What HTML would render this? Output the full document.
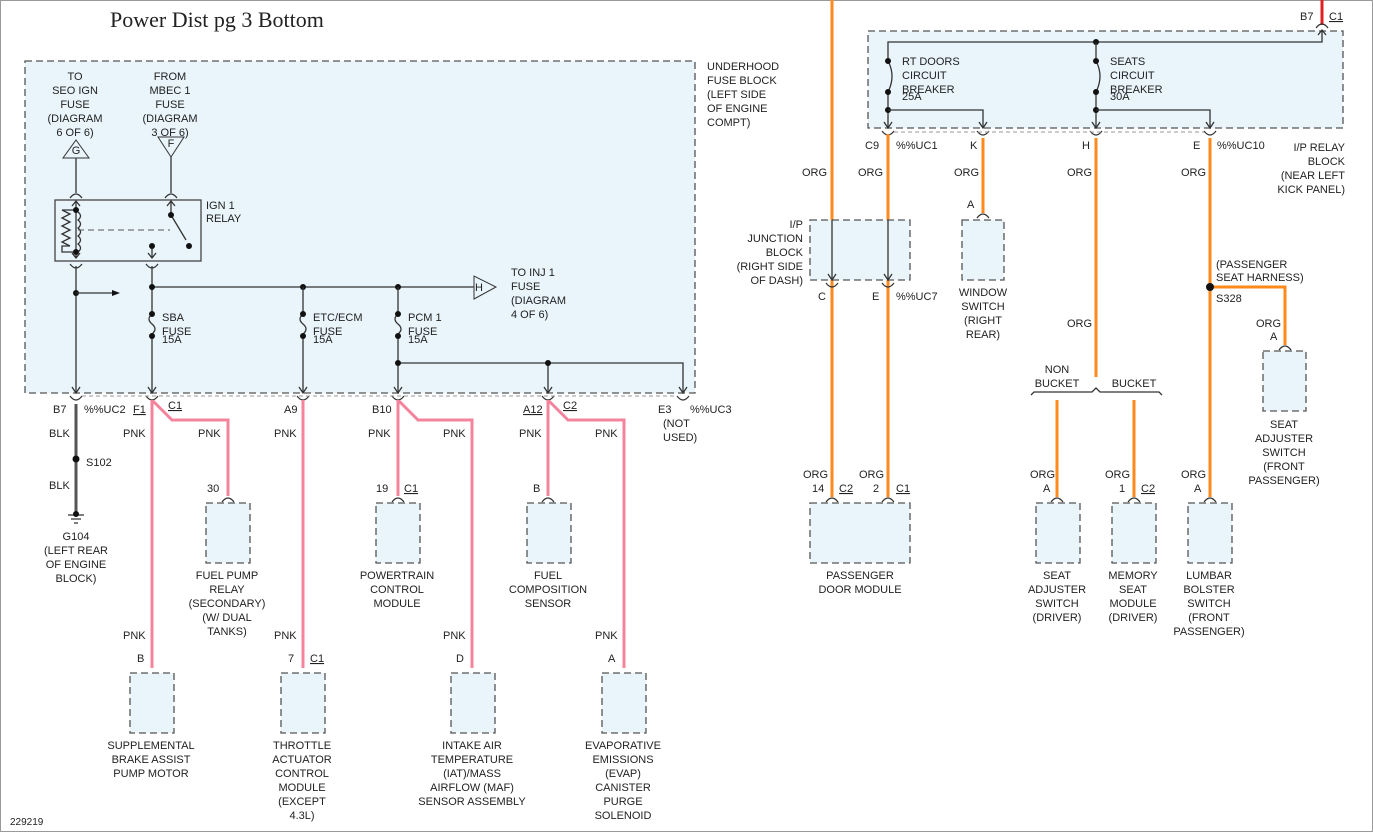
<!DOCTYPE html>
<html><head><meta charset="utf-8"><style>
html,body{margin:0;padding:0;background:#fff;}
svg{display:block;}
text{font-family:"Liberation Sans",sans-serif;font-size:11px;fill:#222;}
.t{font-family:"Liberation Serif",serif;font-size:22px;}
.bx{fill:#e9f5fb;stroke:#555;stroke-width:1.3;stroke-dasharray:7,4;}
.k{stroke:#333;stroke-width:1.3;fill:none;}
.p{stroke:#f4849c;stroke-width:3;fill:none;}
.o{stroke:#ff8a1c;stroke-width:3;fill:none;}
.c{stroke:#333;stroke-width:1.2;fill:none;}
</style></head><body>
<svg width="1373" height="832" viewBox="0 0 1373 832" xmlns="http://www.w3.org/2000/svg">
<rect x="0" y="0" width="1373" height="832" fill="#fff"/>
<rect x="0.5" y="0.5" width="1372" height="831" fill="none" stroke="#999"/>
<text class="t" x="110" y="27">Power Dist pg 3 Bottom</text>

<!-- Left underhood block -->
<rect class="bx" x="25" y="61" width="670" height="332"/>
<g text-anchor="end"><text x="707" y="70" text-anchor="start">UNDERHOOD</text></g>
<text x="707" y="84">FUSE BLOCK</text><text x="707" y="98">(LEFT SIDE</text><text x="707" y="112">OF ENGINE</text><text x="707" y="126">COMPT)</text>

<g text-anchor="middle">
<text x="75" y="80">TO</text><text x="75" y="94">SEO IGN</text><text x="75" y="108">FUSE</text><text x="75" y="122">(DIAGRAM</text><text x="75" y="136">6 OF 6)</text>
<text x="170" y="80">FROM</text><text x="170" y="94">MBEC 1</text><text x="170" y="108">FUSE</text><text x="170" y="122">(DIAGRAM</text><text x="170" y="136">3 OF 6)</text>
</g>
<polygon points="76,140 89,158 63,158" fill="#e9f5fb" stroke="#333"/>
<text x="76" y="154" text-anchor="middle">G</text>
<polygon points="158,137 184,137 171,157" fill="#e9f5fb" stroke="#333"/>
<text x="171" y="147" text-anchor="middle">F</text>
<line class="k" x1="76" y1="158" x2="76" y2="193"/>
<line class="k" x1="171" y1="157" x2="171" y2="193"/>
<path class="c" d="M70 198 Q76 190 82 198 M165 198 Q171 190 177 198"/>
<rect x="55" y="200" width="146" height="61" fill="#e9f5fb" stroke="#444" stroke-width="1.3"/>
<text x="206" y="209">IGN 1</text><text x="206" y="222">RELAY</text>
<path class="k" d="M76 201 V258 M72 206 L76 201 L80 206 M72 253 L76 258 L80 253"/>
<path class="k" d="M76 210 H62 L70 214 L62 218 L70 222 L62 226 L70 230 L62 234 L70 238 L62 242 L70 246 L62 246 V252 H76"/>
<path class="k" d="M78 212 q5 4 0 8 q5 4 0 8 q5 4 0 8 q5 4 0 8 q5 4 0 8"/>
<line x1="78" y1="230" x2="170" y2="230" stroke="#555" stroke-dasharray="6,4"/>
<path class="k" d="M171 201 V215 M167 206 L171 201 L175 206 M171 215 L186 240"/>
<path class="k" d="M152 246 V258 M148 253 L152 258 L156 253"/>
<circle cx="76" cy="210" r="3" fill="#111"/><circle cx="76" cy="252" r="3" fill="#111"/>
<circle cx="171" cy="215" r="3" fill="#111"/><circle cx="189" cy="246" r="3" fill="#111"/><circle cx="152" cy="246" r="3" fill="#111"/>
<path class="c" d="M70 264 Q76 272 82 264 M146 264 Q152 272 158 264"/>

<!-- left columns -->
<line class="k" x1="76" y1="266" x2="76" y2="393"/>
<circle cx="76" cy="293" r="3" fill="#111"/>
<path class="k" d="M76 293 H112"/><polygon points="112,290 120,293 112,296" fill="#111"/>
<line class="k" x1="152" y1="266" x2="152" y2="393"/>
<path class="k" d="M152 287 H480"/>
<polygon points="474,276 474,299 496,287" fill="#e9f5fb" stroke="#333"/>
<text x="479" y="291" text-anchor="middle">H</text>
<text x="511" y="276">TO INJ 1</text><text x="511" y="290">FUSE</text><text x="511" y="304">(DIAGRAM</text><text x="511" y="318">4 OF 6)</text>
<circle cx="152" cy="287" r="3" fill="#111"/><circle cx="303" cy="287" r="3" fill="#111"/><circle cx="398" cy="287" r="3" fill="#111"/>
<line class="k" x1="303" y1="287" x2="303" y2="393"/>
<line class="k" x1="398" y1="287" x2="398" y2="393"/>
<path class="k" d="M398 363 H683 V393 M548 363 V393"/>
<circle cx="398" cy="363" r="3" fill="#111"/><circle cx="548" cy="363" r="3" fill="#111"/>
<!-- fuses -->
<g fill="#e9f5fb">
<rect x="146" y="316" width="12" height="20" stroke="none"/><rect x="297" y="316" width="12" height="20" stroke="none"/><rect x="392" y="316" width="12" height="20" stroke="none"/>
</g>
<path class="k" d="M152 314 q-6 5 0 10 q6 5 0 10 M303 314 q-6 5 0 10 q6 5 0 10 M398 314 q-6 5 0 10 q6 5 0 10"/>
<g fill="#111"><circle cx="152" cy="314" r="3"/><circle cx="152" cy="336" r="3"/><circle cx="303" cy="314" r="3"/><circle cx="303" cy="336" r="3"/><circle cx="398" cy="314" r="3"/><circle cx="398" cy="336" r="3"/></g>
<text x="162" y="321">SBA</text><text x="162" y="335">FUSE</text><text x="162" y="343">15A</text>
<text x="313" y="321">ETC/ECM</text><text x="313" y="335">FUSE</text><text x="313" y="343">15A</text>
<text x="408" y="321">PCM 1</text><text x="408" y="335">FUSE</text><text x="408" y="343">15A</text>
<!-- arrows at bottom edge -->
<path class="k" d="M72 387 L76 393 L80 387 M148 387 L152 393 L156 387 M299 387 L303 393 L307 387 M394 387 L398 393 L402 387 M544 387 L548 393 L552 387 M679 387 L683 393 L687 387"/>
<path class="c" d="M70 396 Q76 404 82 396 M146 396 Q152 404 158 396 M297 396 Q303 404 309 396 M392 396 Q398 404 404 396 M542 396 Q548 404 554 396 M677 396 Q683 404 689 396"/>
<line x1="82" y1="396" x2="677" y2="396" stroke="#999" stroke-dasharray="4,3"/>

<text x="53" y="413">B7</text><text x="84" y="413">%%UC2</text><text x="133" y="413" text-decoration="underline">F1</text><text x="168" y="409" text-decoration="underline">C1</text>
<text x="284" y="413">A9</text><text x="372" y="413">B10</text><text x="523" y="413" text-decoration="underline">A12</text><text x="563" y="409" text-decoration="underline">C2</text>
<text x="658" y="413">E3</text><text x="690" y="413">%%UC3</text><text x="663" y="427">(NOT</text><text x="663" y="441">USED)</text>

<!-- ground -->
<line x1="76" y1="404" x2="76" y2="512" stroke="#555" stroke-width="3"/>
<circle cx="76" cy="459" r="3.5" fill="#111"/>
<text x="49" y="437">BLK</text><text x="49" y="489">BLK</text><text x="86" y="466">S102</text>
<path class="k" d="M68 515 H84 M71 519 H81 M74 523 H78"/><circle cx="76" cy="514" r="3" fill="#111"/>
<g text-anchor="middle"><text x="76" y="540">G104</text><text x="76" y="554">(LEFT REAR</text><text x="76" y="568">OF ENGINE</text><text x="76" y="582">BLOCK)</text></g>

<!-- pink wires -->
<path class="p" d="M152 400 V668 M153 401 L172 420 H228 V496"/>
<path class="p" d="M303 400 V668"/>
<path class="p" d="M398 400 V496 M399 401 L418 420 H472 V668"/>
<path class="p" d="M548 400 V496 M549 401 L568 420 H624 V668"/>
<g>
<text x="123" y="437">PNK</text><text x="198" y="437">PNK</text><text x="274" y="437">PNK</text><text x="368" y="437">PNK</text><text x="443" y="437">PNK</text><text x="519" y="437">PNK</text><text x="595" y="437">PNK</text>
<text x="123" y="639">PNK</text><text x="274" y="639">PNK</text><text x="443" y="639">PNK</text><text x="595" y="639">PNK</text>
</g>
<text x="207" y="492">30</text><text x="376" y="492">19</text><text x="404" y="492" text-decoration="underline">C1</text><text x="533" y="492">B</text>
<text x="137" y="662">B</text><text x="288" y="662">7</text><text x="310" y="662" text-decoration="underline">C1</text><text x="456" y="662">D</text><text x="608" y="662">A</text>
<path class="c" d="M222 502 Q228 494 234 502 M392 502 Q398 494 404 502 M542 502 Q548 494 554 502 M146 678 Q152 670 158 678 M297 678 Q303 670 309 678 M466 678 Q472 670 478 678 M618 678 Q624 670 630 678"/>
<rect class="bx" x="206" y="503" width="44" height="60"/>
<rect class="bx" x="376" y="503" width="44" height="60"/>
<rect class="bx" x="527" y="503" width="44" height="60"/>
<rect class="bx" x="130" y="673" width="44" height="60"/>
<rect class="bx" x="281" y="673" width="44" height="60"/>
<rect class="bx" x="451" y="673" width="44" height="60"/>
<rect class="bx" x="602" y="673" width="44" height="60"/>
<g text-anchor="middle">
<text x="227" y="579">FUEL PUMP</text><text x="227" y="593">RELAY</text><text x="227" y="607">(SECONDARY)</text><text x="227" y="621">(W/ DUAL</text><text x="227" y="635">TANKS)</text>
<text x="397" y="579">POWERTRAIN</text><text x="397" y="593">CONTROL</text><text x="397" y="607">MODULE</text>
<text x="548" y="579">FUEL</text><text x="548" y="593">COMPOSITION</text><text x="548" y="607">SENSOR</text>
<text x="151" y="749">SUPPLEMENTAL</text><text x="151" y="763">BRAKE ASSIST</text><text x="151" y="777">PUMP MOTOR</text>
<text x="302" y="749">THROTTLE</text><text x="302" y="763">ACTUATOR</text><text x="302" y="777">CONTROL</text><text x="302" y="791">MODULE</text><text x="302" y="805">(EXCEPT</text><text x="302" y="819">4.3L)</text>
<text x="472" y="749">INTAKE AIR</text><text x="472" y="763">TEMPERATURE</text><text x="472" y="777">(IAT)/MASS</text><text x="472" y="791">AIRFLOW (MAF)</text><text x="472" y="805">SENSOR ASSEMBLY</text>
<text x="623" y="749">EVAPORATIVE</text><text x="623" y="763">EMISSIONS</text><text x="623" y="777">(EVAP)</text><text x="623" y="791">CANISTER</text><text x="623" y="805">PURGE</text><text x="623" y="819">SOLENOID</text>
</g>
<text x="10" y="825" style="font-size:10px">229219</text>

<!-- RIGHT SIDE -->
<line x1="1322" y1="0" x2="1322" y2="25" stroke="#e02020" stroke-width="3"/>
<text x="1300" y="20">B7</text><text x="1329" y="20" text-decoration="underline">C1</text>
<path class="c" d="M1316 28 Q1322 20 1328 28"/>
<rect class="bx" x="868" y="31" width="475" height="97"/>
<path class="k" d="M888 128 V42 H1322 V30 M1318 35 L1322 30 L1326 35"/>
<circle cx="1096" cy="42" r="3" fill="#111"/>
<line class="k" x1="1096" y1="42" x2="1096" y2="128"/>
<rect x="880" y="63" width="16" height="28" fill="#e9f5fb"/><rect x="1088" y="63" width="16" height="28" fill="#e9f5fb"/>
<path class="k" d="M888 61 q8 15 0 31 M1096 61 q8 15 0 31"/>
<g fill="#111"><circle cx="888" cy="61" r="3"/><circle cx="888" cy="92" r="3"/><circle cx="888" cy="110" r="3"/><circle cx="1096" cy="61" r="3"/><circle cx="1096" cy="92" r="3"/><circle cx="1096" cy="110" r="3"/></g>
<path class="k" d="M888 110 H983 V128 M1096 110 H1210 V128"/>
<path class="k" d="M884 122 L888 128 L892 122 M979 122 L983 128 L987 122 M1092 122 L1096 128 L1100 122 M1206 122 L1210 128 L1214 122"/>
<text x="902" y="65">RT DOORS</text><text x="902" y="79">CIRCUIT</text><text x="902" y="93">BREAKER</text><text x="902" y="100">25A</text>
<text x="1110" y="65">SEATS</text><text x="1110" y="79">CIRCUIT</text><text x="1110" y="93">BREAKER</text><text x="1110" y="100">30A</text>
<path class="c" d="M882 131 Q888 139 894 131 M977 131 Q983 139 989 131 M1090 131 Q1096 139 1102 131 M1204 131 Q1210 139 1216 131"/>
<line x1="894" y1="132" x2="1204" y2="132" stroke="#999" stroke-dasharray="4,3"/>
<text x="865" y="149">C9</text><text x="896" y="149">%%UC1</text><text x="970" y="149">K</text><text x="1082" y="149">H</text><text x="1193" y="149">E</text><text x="1217" y="149">%%UC10</text>
<g text-anchor="end"><text x="1345" y="151">I/P RELAY</text><text x="1345" y="165">BLOCK</text><text x="1345" y="179">(NEAR LEFT</text><text x="1345" y="193">KICK PANEL)</text></g>

<!-- orange wires -->
<path class="o" d="M832 0 V497 M888 134 V497 M983 138 V213 M1096 138 V377 M1057 400 V497 M1134 400 V497 M1210 138 V497 M1210 287 H1285 V345"/>
<text x="802" y="176">ORG</text><text x="858" y="176">ORG</text><text x="954" y="176">ORG</text><text x="1067" y="176">ORG</text><text x="1181" y="176">ORG</text>
<rect class="bx" x="810" y="220" width="100" height="60"/>
<line class="k" x1="832" y1="220" x2="832" y2="280"/><line class="k" x1="888" y1="220" x2="888" y2="280"/>
<path class="k" d="M828 274 L832 280 L836 274 M884 274 L888 280 L892 274"/>
<path class="c" d="M826 283 Q832 291 838 283 M882 283 Q888 291 894 283"/>
<g text-anchor="end"><text x="803" y="228">I/P</text><text x="803" y="242">JUNCTION</text><text x="803" y="256">BLOCK</text><text x="803" y="270">(RIGHT SIDE</text><text x="803" y="284">OF DASH)</text></g>
<text x="818" y="300">C</text><text x="872" y="300">E</text><text x="896" y="300">%%UC7</text>
<text x="967" y="208">A</text>
<path class="c" d="M977 218 Q983 210 989 218"/>
<rect class="bx" x="962" y="220" width="42" height="60"/>
<g text-anchor="middle"><text x="983" y="296">WINDOW</text><text x="983" y="310">SWITCH</text><text x="983" y="324">(RIGHT</text><text x="983" y="338">REAR)</text></g>
<text x="1067" y="327">ORG</text>
<g text-anchor="middle"><text x="1057" y="373">NON</text><text x="1057" y="387">BUCKET</text><text x="1134" y="387">BUCKET</text></g>
<path class="k" d="M1031 395 l3 -3 H1092 l4 -4 l4 4 H1159 l3 3"/>
<text x="1216" y="268">(PASSENGER</text><text x="1216" y="281">SEAT HARNESS)</text>
<circle cx="1210" cy="287" r="4" fill="#111"/><text x="1216" y="302">S328</text>
<text x="1256" y="327">ORG</text><text x="1270" y="340">A</text>
<path class="c" d="M1279 350 Q1285 342 1291 350"/>
<rect class="bx" x="1263" y="351" width="43" height="60"/>
<g text-anchor="middle"><text x="1284" y="428">SEAT</text><text x="1284" y="442">ADJUSTER</text><text x="1284" y="456">SWITCH</text><text x="1284" y="470">(FRONT</text><text x="1284" y="484">PASSENGER)</text></g>

<text x="803" y="478">ORG</text><text x="859" y="478">ORG</text><text x="1030" y="478">ORG</text><text x="1105" y="478">ORG</text><text x="1181" y="478">ORG</text>
<text x="812" y="492">14</text><text x="839" y="492" text-decoration="underline">C2</text><text x="873" y="492">2</text><text x="896" y="492" text-decoration="underline">C1</text>
<text x="1043" y="492">A</text><text x="1119" y="492">1</text><text x="1141" y="492" text-decoration="underline">C2</text><text x="1194" y="492">A</text>
<path class="c" d="M826 502 Q832 494 838 502 M882 502 Q888 494 894 502 M1051 502 Q1057 494 1063 502 M1128 502 Q1134 494 1140 502 M1204 502 Q1210 494 1216 502"/>
<rect class="bx" x="810" y="503" width="100" height="60"/>
<rect class="bx" x="1036" y="503" width="44" height="60"/>
<rect class="bx" x="1112" y="503" width="44" height="60"/>
<rect class="bx" x="1188" y="503" width="44" height="60"/>
<g text-anchor="middle">
<text x="860" y="579">PASSENGER</text><text x="860" y="593">DOOR MODULE</text>
<text x="1057" y="579">SEAT</text><text x="1057" y="593">ADJUSTER</text><text x="1057" y="607">SWITCH</text><text x="1057" y="621">(DRIVER)</text>
<text x="1133" y="579">MEMORY</text><text x="1133" y="593">SEAT</text><text x="1133" y="607">MODULE</text><text x="1133" y="621">(DRIVER)</text>
<text x="1209" y="579">LUMBAR</text><text x="1209" y="593">BOLSTER</text><text x="1209" y="607">SWITCH</text><text x="1209" y="621">(FRONT</text><text x="1209" y="635">PASSENGER)</text>
</g>
</svg>
</body></html>
